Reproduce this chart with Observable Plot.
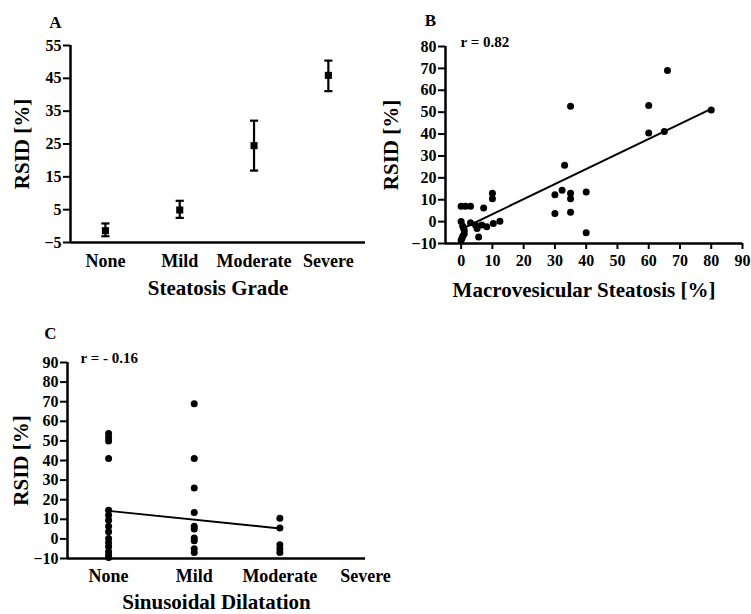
<!DOCTYPE html>
<html><head><meta charset="utf-8">
<script src="https://cdn.jsdelivr.net/npm/d3@7"></script>
<script src="https://cdn.jsdelivr.net/npm/@observablehq/plot@0.6"></script>
<style>
body{margin:0;background:#fff;}
#wrap{position:relative;width:751px;height:614px;overflow:hidden;}
#wrap svg{position:absolute;overflow:visible;}
</style></head><body><div id="wrap"></div>
<script>
// Panel A: RSID by steatosis grade (mean with error bars)
const grades = ["None", "Mild", "Moderate", "Severe"];
const gradeMean = [-1.4, 4.9, 24.5, 45.9];
const gradeLow = [-3.1, 2.5, 16.9, 41.1];
const gradeHigh = [0.8, 7.7, 32.1, 50.4];
const ticksA = [-5, 5, 15, 25, 35, 45, 55];

// Panel B: RSID vs macrovesicular steatosis
const macroX = [0, 1.4, 3, 0, 0.5, 1, 1, 0.6, 0.3, 0, 3, 4.6, 5.1, 5.6, 6.6, 7.2, 8.2, 10, 10, 10.3, 12.4, 30, 30, 32.3, 33.1, 35, 35, 35, 35, 40, 40, 60, 60, 65, 66, 80];
const macroY = [7, 7, 7, 0, -2, -4, -5.5, -6.5, -7.5, -8.5, -0.5, -1.6, -3.2, -7, -1.6, 6.2, -2.4, 13, 10.5, -0.9, 0.2, 12.3, 3.7, 14.3, 25.7, 52.7, 13, 10.5, 4.3, 13.5, -5.1, 53, 40.5, 41.2, 69, 51];
const fitBx = [0, 80];
const fitBy = [-3.5, 51.5];
const ticksBx = [0, 10, 20, 30, 40, 50, 60, 70, 80, 90];
const ticksBy = [-10, 0, 10, 20, 30, 40, 50, 60, 70, 80];

// Panel C: RSID by sinusoidal dilatation
const dilGrade = [0,0,0,0,0,0,0,0,0,0,0,0,0,0,0, 1,1,1,1,1,1,1,1,1,1, 2,2,2,2,2];
const dilY = [53.8, 51.7, 50, 41, 14.6, 12.1, 9.5, 6.5, 3.6, 0.2, -2, -4, -6.6, -8.3, -9.5,
              69, 41, 26, 13.5, 6.5, 5, 0.5, -1, -5, -7,
              10.5, 5.5, -3, -5, -7];
const fitCx = [0, 2];
const fitCy = [14.3, 5.3];
const ticksCy = [-10, 0, 10, 20, 30, 40, 50, 60, 70, 80, 90];

const FONT = "Liberation Serif, Times New Roman, serif";
const NUM = 16, CAT = 18, TITLE = 21, LETTER = 17, RTXT = 15;
const baseStyle = {fontFamily: FONT, fontSize: "15px", fontWeight: "bold", color: "black", background: "white", overflow: "visible"};
const wrap = document.getElementById("wrap");
function place(svg, left, top) { svg.style.left = left + "px"; svg.style.top = top + "px"; wrap.appendChild(svg); }
const mid = {lineAnchor: "middle"};

// ---------- Panel A ----------
const dataA = grades.map((g, i) => ({i, g, m: gradeMean[i], lo: gradeLow[i], hi: gradeHigh[i]}));
const capA = 0.055;
const plotA = Plot.plot({
  width: 375, height: 300,
  marginLeft: 70, marginTop: 45, marginRight: 10, marginBottom: 58,
  style: baseStyle,
  x: {type: "linear", domain: [-0.47, 3.5]},
  y: {domain: [-5, 55]},
  marks: [
    Plot.axisY({ticks: ticksA, tickSize: 7, tickPadding: 2, strokeWidth: 2, label: null, fontSize: NUM}),
    Plot.axisX({ticks: [0, 1, 2, 3], tickFormat: i => grades[i], tickSize: 0, tickPadding: 12, label: null, fontSize: CAT}),
    Plot.ruleX([-0.47], {strokeWidth: 2.5}),
    Plot.ruleY([-5], {strokeWidth: 2.5}),
    Plot.link(dataA, {x1: "i", x2: "i", y1: "lo", y2: "hi", strokeWidth: 2.2}),
    Plot.link(dataA, {x1: d => d.i - capA, x2: d => d.i + capA, y1: "hi", y2: "hi", strokeWidth: 2.2}),
    Plot.link(dataA, {x1: d => d.i - capA, x2: d => d.i + capA, y1: "lo", y2: "lo", strokeWidth: 2.2}),
    Plot.dot(dataA, {x: "i", y: "m", symbol: "square", r: 4, fill: "black", stroke: "none"}),
    Plot.text(["A"], {...mid, frameAnchor: "top-left", dx: -15, dy: -23, fontSize: LETTER, textAnchor: "middle"}),
    Plot.text(["RSID [%]"], {...mid, frameAnchor: "left", rotate: -90, dx: -48, fontSize: TITLE, textAnchor: "middle"}),
    Plot.text(["Steatosis Grade"], {...mid, frameAnchor: "bottom", dy: 46, fontSize: TITLE, textAnchor: "middle"})
  ]
});
place(plotA, 0, 0);

// ---------- Panel B ----------
const dataB = macroX.map((x, k) => ({x, y: macroY[k]}));
const fitB = fitBx.map((x, k) => ({x, y: fitBy[k]}));
const plotB = Plot.plot({
  width: 376, height: 300,
  marginLeft: 70, marginTop: 46, marginRight: 9, marginBottom: 57,
  style: baseStyle,
  x: {domain: [-5, 90]},
  y: {domain: [-10, 80]},
  marks: [
    Plot.axisY({ticks: ticksBy, tickSize: 7, tickPadding: 2, strokeWidth: 2, label: null, fontSize: NUM}),
    Plot.axisX({ticks: ticksBx, tickSize: 6, tickPadding: 5, strokeWidth: 2, label: null, fontSize: NUM}),
    Plot.ruleX([-5], {strokeWidth: 2.5}),
    Plot.ruleY([-10], {strokeWidth: 2.5}),
    Plot.line(fitB, {x: "x", y: "y", strokeWidth: 2}),
    Plot.dot(dataB, {x: "x", y: "y", r: 3.5, fill: "black", stroke: "none"}),
    Plot.text(["B"], {...mid, frameAnchor: "top-left", dx: -15, dy: -26, fontSize: LETTER, textAnchor: "middle"}),
    Plot.text(["r = 0.82"], {...mid, frameAnchor: "top-left", dx: 15, dy: -4, fontSize: RTXT, textAnchor: "start"}),
    Plot.text(["RSID [%]"], {...mid, frameAnchor: "left", rotate: -90, dx: -54, fontSize: TITLE, textAnchor: "middle"}),
    Plot.text(["Macrovesicular Steatosis [%]"], {...mid, frameAnchor: "bottom", dx: -10, dy: 47, fontSize: TITLE, textAnchor: "middle"})
  ]
});
place(plotB, 375, 0);

// ---------- Panel C ----------
const dataC = dilGrade.map((g, k) => ({g, y: dilY[k]}));
const fitC = fitCx.map((g, k) => ({g, y: fitCy[k]}));
const plotC = Plot.plot({
  width: 400, height: 314,
  marginLeft: 67, marginTop: 62, marginRight: 35, marginBottom: 56,
  style: baseStyle,
  x: {type: "linear", domain: [-0.48, 3.0]},
  y: {domain: [-10, 90]},
  marks: [
    Plot.axisY({ticks: ticksCy, tickSize: 7, tickPadding: 2, strokeWidth: 2, label: null, fontSize: NUM}),
    Plot.axisX({ticks: [0, 1, 2, 3], tickFormat: i => grades[i], tickSize: 0, tickPadding: 11, label: null, fontSize: CAT}),
    Plot.ruleX([-0.48], {strokeWidth: 2.5}),
    Plot.ruleY([-10], {strokeWidth: 2.5}),
    Plot.line(fitC, {x: "g", y: "y", strokeWidth: 2}),
    Plot.dot(dataC, {x: "g", y: "y", r: 3.5, fill: "black", stroke: "none"}),
    Plot.text(["C"], {...mid, frameAnchor: "top-left", dx: -17, dy: -29, fontSize: LETTER, textAnchor: "middle"}),
    Plot.text(["r = - 0.16"], {...mid, frameAnchor: "top-left", dx: 13, dy: -4, fontSize: RTXT, textAnchor: "start"}),
    Plot.text(["RSID [%]"], {...mid, frameAnchor: "left", rotate: -90, dx: -46, fontSize: TITLE, textAnchor: "middle"}),
    Plot.text(["Sinusoidal Dilatation"], {...mid, frameAnchor: "bottom", dy: 44, fontSize: TITLE, textAnchor: "middle"})
  ]
});
place(plotC, 0, 300);
</script></body></html>
